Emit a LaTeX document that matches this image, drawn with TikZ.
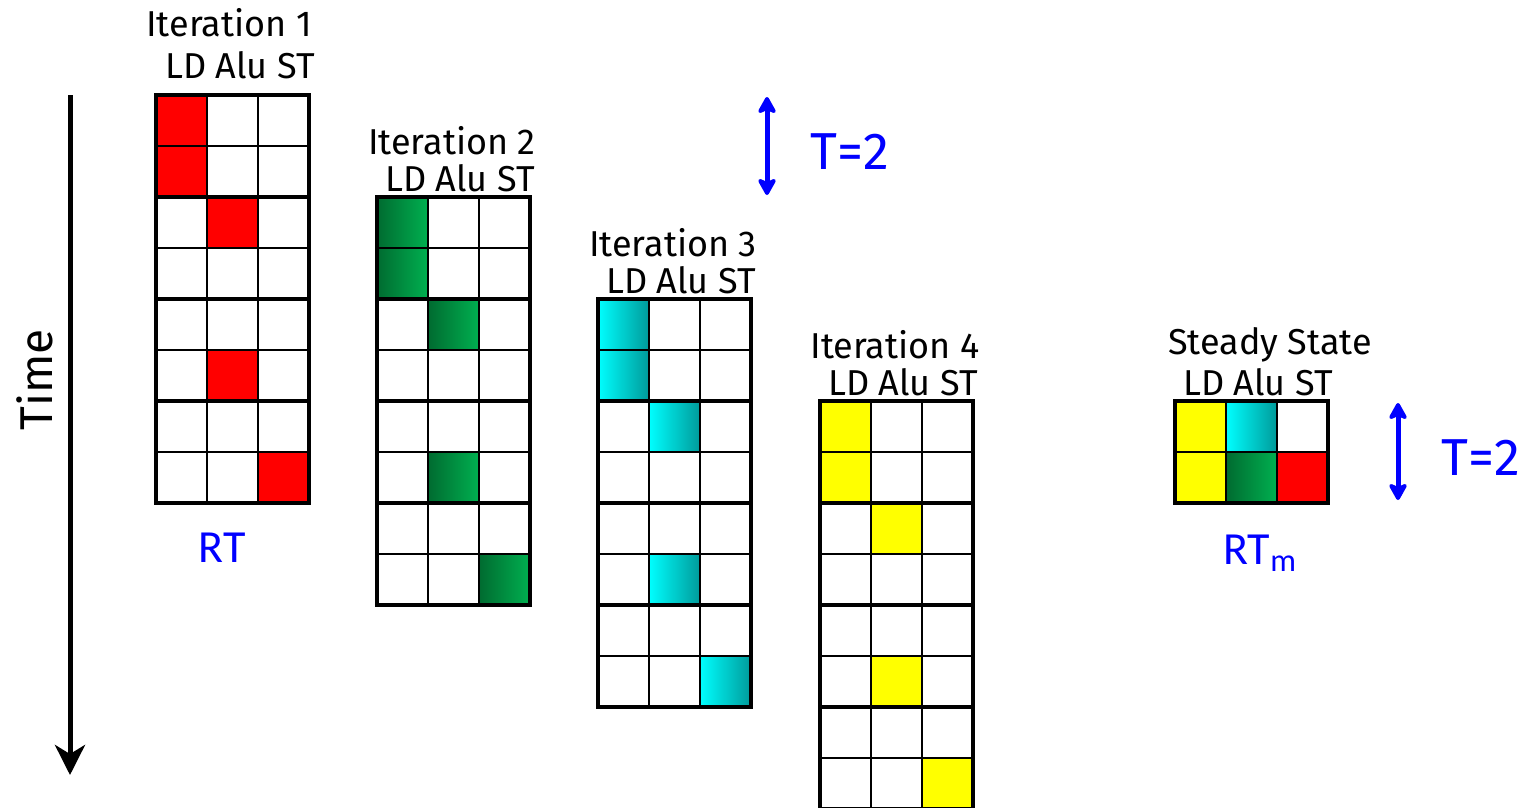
\documentclass[tikz,border=0pt]{standalone}
\usepackage{fontspec}
\setmainfont{Fira Sans}
\newfontfamily\rtfont{Carlito}
\usetikzlibrary{arrows.meta,positioning}
\definecolor{slotred}{HTML}{FF0000}
\definecolor{slotgreenA}{HTML}{006B30}
\definecolor{slotgreenB}{HTML}{00B050}
\definecolor{slotcyanA}{HTML}{00FFFF}
\definecolor{slotcyanB}{HTML}{009A9A}
\definecolor{slotyellow}{HTML}{FFFF00}
\definecolor{accent}{HTML}{0000FF}

% grid of 3 units x #3 cycles, top left at (#1,#2), thick lines at rows #4
\newcommand\slotgrid[4]{%
  \foreach \k in {1,2} \draw[cellline] (#1+\k*51,#2) -- (#1+\k*51,#2+#3*51);
  \foreach \k in {1,...,#3} \draw[cellline] (#1,#2+\k*51) -- (#1+153,#2+\k*51);
  \foreach \k in {#4} \draw[bandline] (#1,#2+\k*51) -- (#1+153,#2+\k*51);
  \draw[bandline] (#1,#2) rectangle (#1+153,#2+#3*51);}
% busy slots of one iteration
\newcommand\slotfill[3]{%
  \foreach \r/\c in {0/0,1/0,2/1,5/1,7/2}
    \path[#3] (#1+\c*51,#2+\r*51) rectangle ++(51,51);}

\begin{document}
\begin{tikzpicture}[x=1pt,y=-1pt,
  cellline/.style={line width=2.6pt,black},
  bandline/.style={line width=4.5pt,black,line cap=rect},
  itlabel/.style={font=\fontsize{36}{38}\selectfont,inner sep=0pt},
  unitlabel/.style={font=\fontsize{36}{38}\selectfont,inner sep=0pt},
  rtlabel/.style={font=\rtfont\fontsize{46}{48}\selectfont,text=accent,inner sep=0pt},
  tlabel/.style={font=\fontsize{52}{54}\selectfont,text=accent,inner sep=0pt},
  redslot/.style={fill=slotred},
  greenslot/.style={left color=slotgreenA,right color=slotgreenB},
  cyanslot/.style={left color=slotcyanA,right color=slotcyanB},
  yellowslot/.style={fill=slotyellow},
  timearr/.style={-{Stealth[length=30pt,width=30pt,inset=9pt]},line width=5pt},
  periodarr/.style={{Stealth[length=20pt,width=22pt,inset=5pt,round]}-{Stealth[length=20pt,width=22pt,inset=5pt,round]},line width=5pt,accent}]
\useasboundingbox (0,0) rectangle (1536,807);
\clip (0,0) rectangle (1536,807);

% time axis
\coordinate (t0) at (70,95);
\coordinate (t1) at (70,775);
\draw[timearr] (t0) -- (t1);
\node[font=\fontsize{46}{48}\selectfont,rotate=90,inner sep=0pt] (time) at (35,380) {Time};

% iterations
\slotfill{156}{95}{redslot}
\slotgrid{156}{95}{8}{2,4,6}
\node[itlabel] (it1) at (229,23) {Iteration 1};
\node[unitlabel] (u1) at (240,65) {LD Alu ST};
\node[rtlabel] (rt) at (222,548) {RT};

\slotfill{377}{197}{greenslot}
\slotgrid{377}{197}{8}{2,4,6}
\node[itlabel] (it2) at (452,141) {Iteration 2};
\node[unitlabel] (u2) at (460,178) {LD Alu ST};

\slotfill{598}{299}{cyanslot}
\slotgrid{598}{299}{8}{2,4,6}
\node[itlabel] (it3) at (673,243) {Iteration 3};
\node[unitlabel] (u3) at (681,280) {LD Alu ST};

\slotfill{820}{401}{yellowslot}
\slotgrid{820}{401}{8}{2,4,6}
\node[itlabel] (it4) at (895,345) {Iteration 4};
\node[unitlabel] (u4) at (903,382) {LD Alu ST};

% steady state
\path[yellowslot] (1175,401) rectangle ++(51,102);
\path[cyanslot] (1226,401) rectangle ++(51,51);
\path[greenslot] (1226,452) rectangle ++(51,51);
\path[redslot] (1277,452) rectangle ++(51,51);
\slotgrid{1175}{401}{2}{0}
\node[itlabel] (ss) at (1270,345) {Steady State};
\node[unitlabel] (uss) at (1258,382) {LD Alu ST};
\node[rtlabel] (rtm) at (1260,553) {RT\textsubscript{m}};

% period
\coordinate (p0) at (767,97);
\coordinate (p1) at (767,195);
\draw[periodarr] (p0) -- (p1);
\node[tlabel] (tp) at (850,152) {T=2};
\coordinate (q0) at (1398,403);
\coordinate (q1) at (1398,500);
\draw[periodarr] (q0) -- (q1);
\node[tlabel] (tq) at (1481,458) {T=2};
\end{tikzpicture}
\end{document}
